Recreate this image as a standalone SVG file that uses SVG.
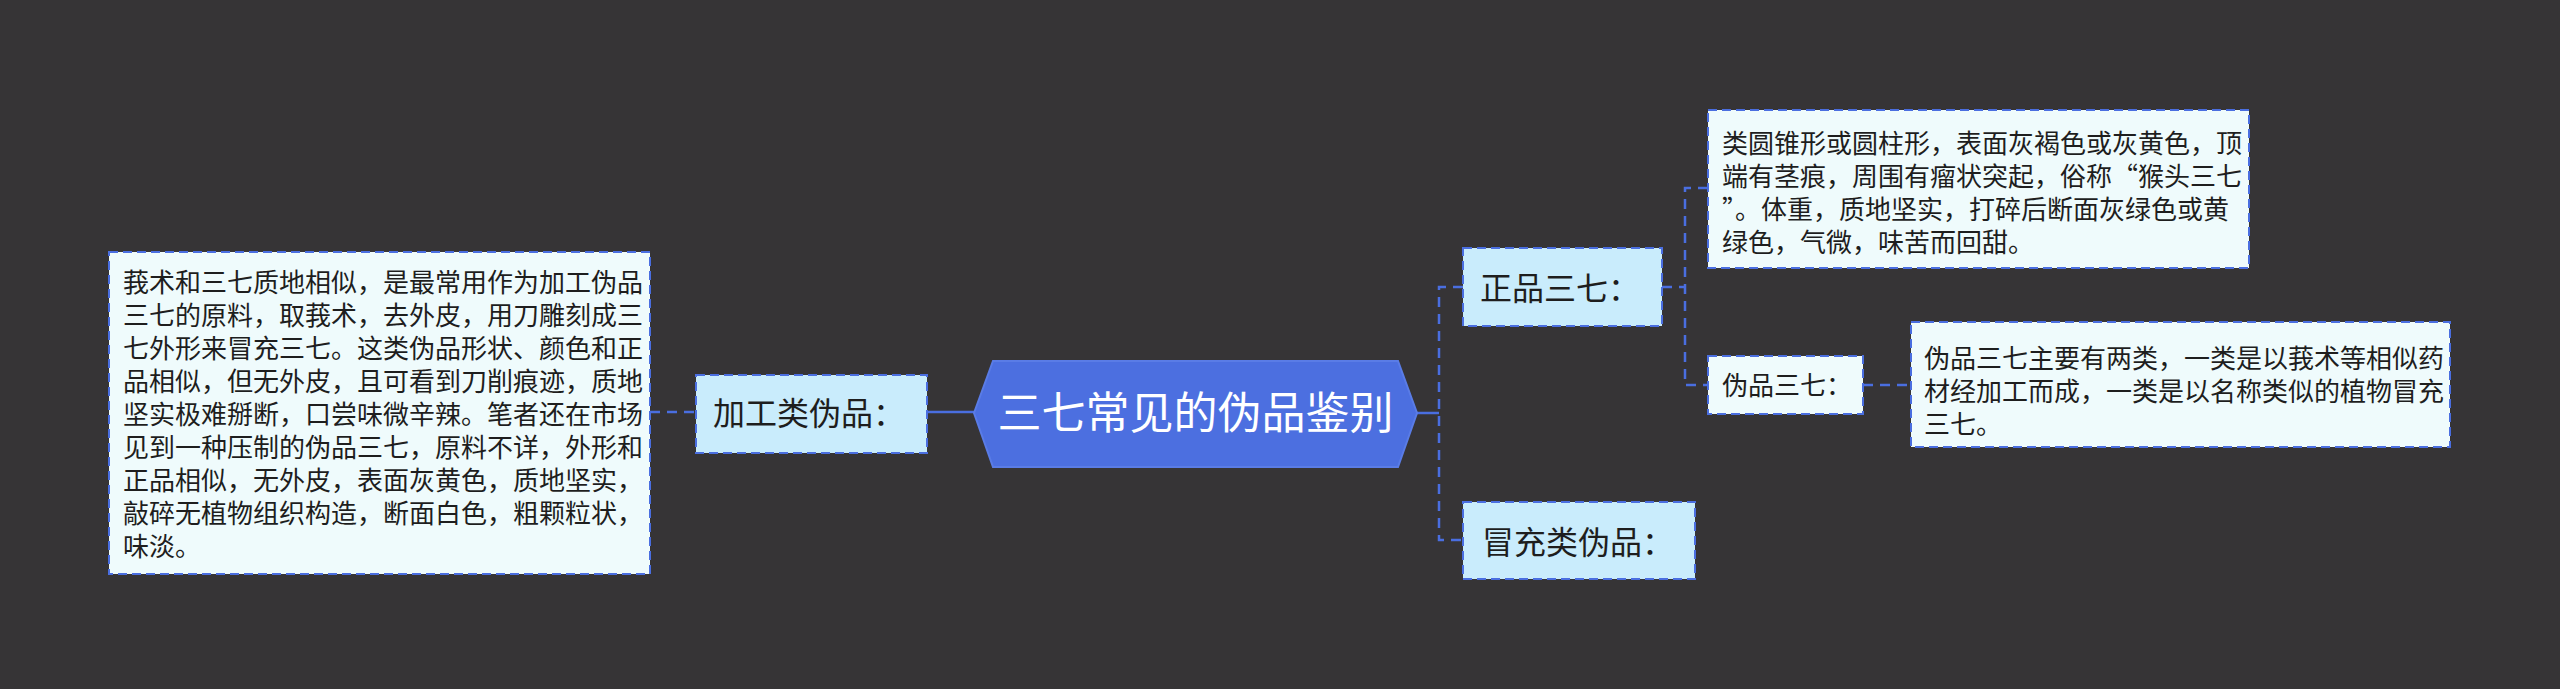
<svg xmlns="http://www.w3.org/2000/svg" width="2560" height="689" viewBox="0 0 2560 689">
  <style>
    .conn { fill: none; stroke: #4a6ee0; stroke-width: 2.5; stroke-dasharray: 10 7; }
    .solid { fill: none; stroke: #4a6ee0; stroke-width: 2.5; }
    .sub rect { fill: #c9ecfc; stroke: #4a6ee0; stroke-width: 2; stroke-dasharray: 9 5; }
    .det rect { fill: #effbfc; stroke: #4a6ee0; stroke-width: 2; stroke-dasharray: 9 5; }
    text { font-family: "Noto Sans CJK SC", "Noto Sans", sans-serif; fill: #1e1e1e; }
    .sub text { font-size: 32px; }
    .det text { font-size: 26px; }
  </style>
  <rect x="0" y="0" width="2560" height="689" fill="#363436"/>

  <g id="connectors">
    <line class="solid" x1="927" y1="412" x2="975" y2="412"/>
    <line class="conn" x1="650" y1="412" x2="696" y2="412"/>
    <line class="solid" x1="1416" y1="413" x2="1439" y2="413"/>
    <path class="conn" d="M1463 287 H1439 V540 H1463"/>
    <path class="conn" d="M1662 287 H1685"/>
    <path class="conn" d="M1708 188 H1685 V385 H1708"/>
    <line class="conn" x1="1863" y1="385" x2="1911" y2="385"/>
  </g>

  <g id="root">
    <polygon points="974,413 993,361 1398,361 1417,413 1398,467 993,467" fill="#4c6fe0" stroke="#5a7ce6" stroke-width="2"/>
    <text x="1195.5" y="429" font-size="44" text-anchor="middle" style="fill:#ffffff">三七常见的伪品鉴别</text>
  </g>

  <g id="node-jiagong" class="sub">
    <rect x="696" y="375" width="231" height="78"/>
    <text x="713" y="425">加工类伪品：</text>
  </g>

  <g id="detail-jiagong" class="det">
    <rect x="109" y="252" width="541" height="322"/>
    <text x="123" y="292">莪术和三七质地相似，是最常用作为加工伪品</text>
    <text x="123" y="325">三七的原料，取莪术，去外皮，用刀雕刻成三</text>
    <text x="123" y="358">七外形来冒充三七。这类伪品形状、颜色和正</text>
    <text x="123" y="391">品相似，但无外皮，且可看到刀削痕迹，质地</text>
    <text x="123" y="424">坚实极难掰断，口尝味微辛辣。笔者还在市场</text>
    <text x="123" y="457">见到一种压制的伪品三七，原料不详，外形和</text>
    <text x="123" y="490">正品相似，无外皮，表面灰黄色，质地坚实，</text>
    <text x="123" y="523">敲碎无植物组织构造，断面白色，粗颗粒状，</text>
    <text x="123" y="556">味淡。</text>
  </g>

  <g id="node-zhengpin" class="sub">
    <rect x="1463" y="248" width="199" height="78"/>
    <text x="1480" y="300">正品三七：</text>
  </g>

  <g id="node-maochong" class="sub">
    <rect x="1463" y="502" width="232" height="77"/>
    <text x="1482" y="554">冒充类伪品：</text>
  </g>

  <g id="detail-zhengpin" class="det">
    <rect x="1708" y="110" width="541" height="158"/>
    <text x="1722" y="153">类圆锥形或圆柱形，表面灰褐色或灰黄色，顶</text>
    <text x="1722" y="186">端有茎痕，周围有瘤状突起，俗称“猴头三七</text>
    <text x="1722" y="219">”。体重，质地坚实，打碎后断面灰绿色或黄</text>
    <text x="1722" y="252">绿色，气微，味苦而回甜。</text>
  </g>

  <g id="node-weipin" class="det">
    <rect x="1708" y="356" width="155" height="58"/>
    <text x="1722" y="395">伪品三七：</text>
  </g>

  <g id="detail-weipin" class="det">
    <rect x="1911" y="322" width="539" height="125"/>
    <text x="1924" y="368">伪品三七主要有两类，一类是以莪术等相似药</text>
    <text x="1924" y="401">材经加工而成，一类是以名称类似的植物冒充</text>
    <text x="1924" y="434">三七。</text>
  </g>
</svg>
